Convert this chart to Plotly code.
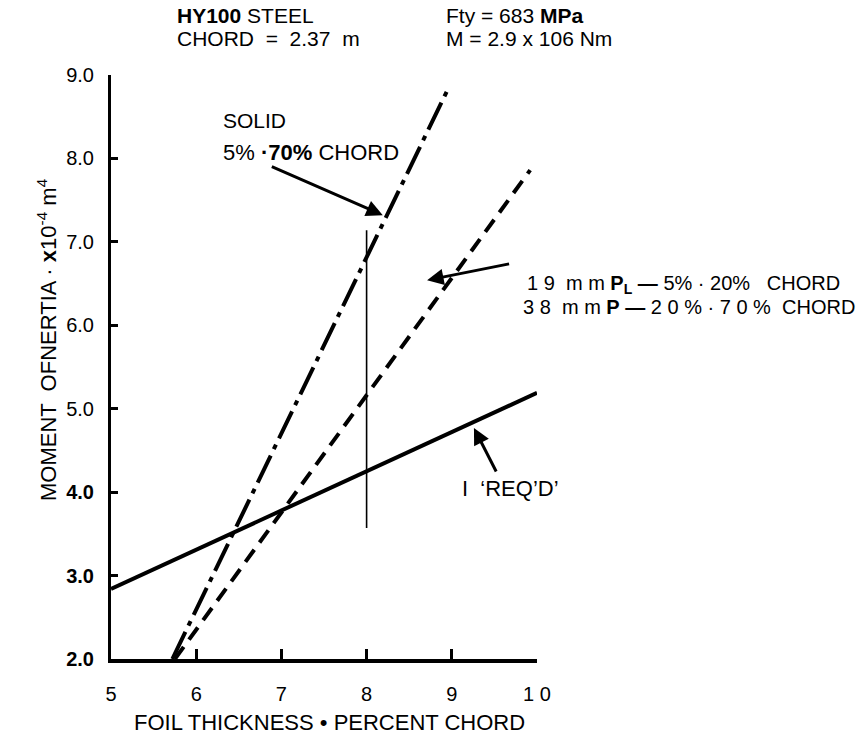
import plotly.graph_objects as go

# Foil thickness (percent chord) vs. moment of inertia (x10^-4 m^4)
solid_thickness = [5.72, 8.94]
solid_inertia = [2.0, 8.80]

plate_thickness = [5.75, 9.92]
plate_inertia = [2.0, 7.86]

required_thickness = [5.0, 10.0]
required_inertia = [2.84, 5.19]

design_thickness = [8.0, 8.0]
design_inertia = [3.57, 7.14]

x_ticks = [5, 6, 7, 8, 9, 10]
x_tick_labels = ["5", "6", "7", "8", "9", "1 0"]
y_ticks = [2, 3, 4, 5, 6, 7, 8, 9]
y_tick_labels = ["<b>2.0</b>", "<b>3.0</b>", "<b>4.0</b>", "5.0", "6.0", "7.0", "8.0", "9.0"]

W, H = 861, 741
L, R, T, B = 111, 324, 75, 82

FONT = "Liberation Sans, Arial, sans-serif"
NARROW = "Liberation Sans Narrow, Liberation Sans, Arial, sans-serif"


def px(xp):
    return (xp - L) / (W - L - R)


def py(yp):
    return (H - B - yp) / (H - T - B)


fig = go.Figure()

fig.add_trace(go.Scatter(
    x=required_thickness, y=required_inertia, mode="lines",
    line=dict(color="black", width=4), showlegend=False, hoverinfo="skip"))
fig.add_trace(go.Scatter(
    x=solid_thickness, y=solid_inertia, mode="lines",
    line=dict(color="black", width=4, dash="30px,7px,5px,7px"),
    showlegend=False, hoverinfo="skip"))
fig.add_trace(go.Scatter(
    x=plate_thickness, y=plate_inertia, mode="lines",
    line=dict(color="black", width=4, dash="15px,9px"),
    showlegend=False, hoverinfo="skip"))
fig.add_trace(go.Scatter(
    x=design_thickness, y=design_inertia, mode="lines",
    line=dict(color="black", width=1.6),
    showlegend=False, hoverinfo="skip"))

annotations = []


def text(xp, yp, s, size=16, family=FONT, xanchor="left", **kw):
    annotations.append(dict(
        x=px(xp), y=py(yp), xref="paper", yref="paper", text=s,
        showarrow=False, xanchor=xanchor, yanchor="middle",
        font=dict(family=family, size=size, color="black"), **kw))


# Header
text(175, 16, "<b>HY100</b> STEEL", size=21)
text(175, 38, "CHORD  =  2.37  m", size=21, family=NARROW)
text(444, 16, "Fty = 683 <b>MPa</b>", size=21)
text(444, 38, "M = 2.9 x 106 Nm", size=21)

# Curve labels
text(221, 120, "SOLID", size=21)
text(221, 152, "5% <b>·</b><b>70%</b> CHORD", size=22)
text(525, 284, "1 9  m m <b>P<sub>L</sub></b> <b>—</b> 5% · 20%   CHORD", size=20, family=NARROW)
text(521, 307, "3 8  m m <b>P</b> <b>—</b> 2 0 % · 7 0 %  CHORD", size=20, family=NARROW)
text(460, 488, "I  ‘REQ’D’", size=22)

# Axis titles
text(329, 722, "FOIL THICKNESS • PERCENT CHORD", size=22, xanchor="center")
annotations.append(dict(
    x=px(47), y=py(340), xref="paper", yref="paper",
    text="MOMENT  OFNERTIA · <b>x</b>10<sup>-4</sup> m<sup>4</sup>",
    showarrow=False, textangle=-90, xanchor="center", yanchor="middle",
    font=dict(family=FONT, size=22, color="black")))

# Pointer arrows (tail -> head in data units)
arrows = [
    ((6.87, 7.91), (8.19, 7.32)),
    ((9.69, 6.74), (8.71, 6.54)),
    ((9.53, 4.23), (9.26, 4.77)),
]
for (x0, y0), (x1, y1) in arrows:
    annotations.append(dict(
        x=x1, y=y1, ax=x0, ay=y0, xref="x", yref="y", axref="x", ayref="y",
        text="", showarrow=True, arrowhead=2, arrowsize=1.1, arrowwidth=3,
        arrowcolor="black"))

fig.update_layout(
    width=W, height=H,
    margin=dict(l=L, r=R, t=T, b=B, pad=0),
    paper_bgcolor="white", plot_bgcolor="white",
    annotations=annotations,
    xaxis=dict(
        range=[5, 10], tickvals=x_ticks, ticktext=x_tick_labels,
        showgrid=False, zeroline=False, showline=True, linecolor="black",
        linewidth=4, ticks="inside", ticklen=10, tickwidth=2.5,
        tickcolor="black", ticklabelstandoff=14,
        tickfont=dict(family=NARROW, size=20, color="black")),
    yaxis=dict(
        range=[2, 9], tickvals=y_ticks, ticktext=y_tick_labels,
        showgrid=False, zeroline=False, showline=True, linecolor="black",
        linewidth=3, ticks="inside", ticklen=7, tickwidth=3,
        tickcolor="black", ticklabelstandoff=10,
        tickfont=dict(family=FONT, size=20, color="black")),
)

fig.write_html("out.html")
